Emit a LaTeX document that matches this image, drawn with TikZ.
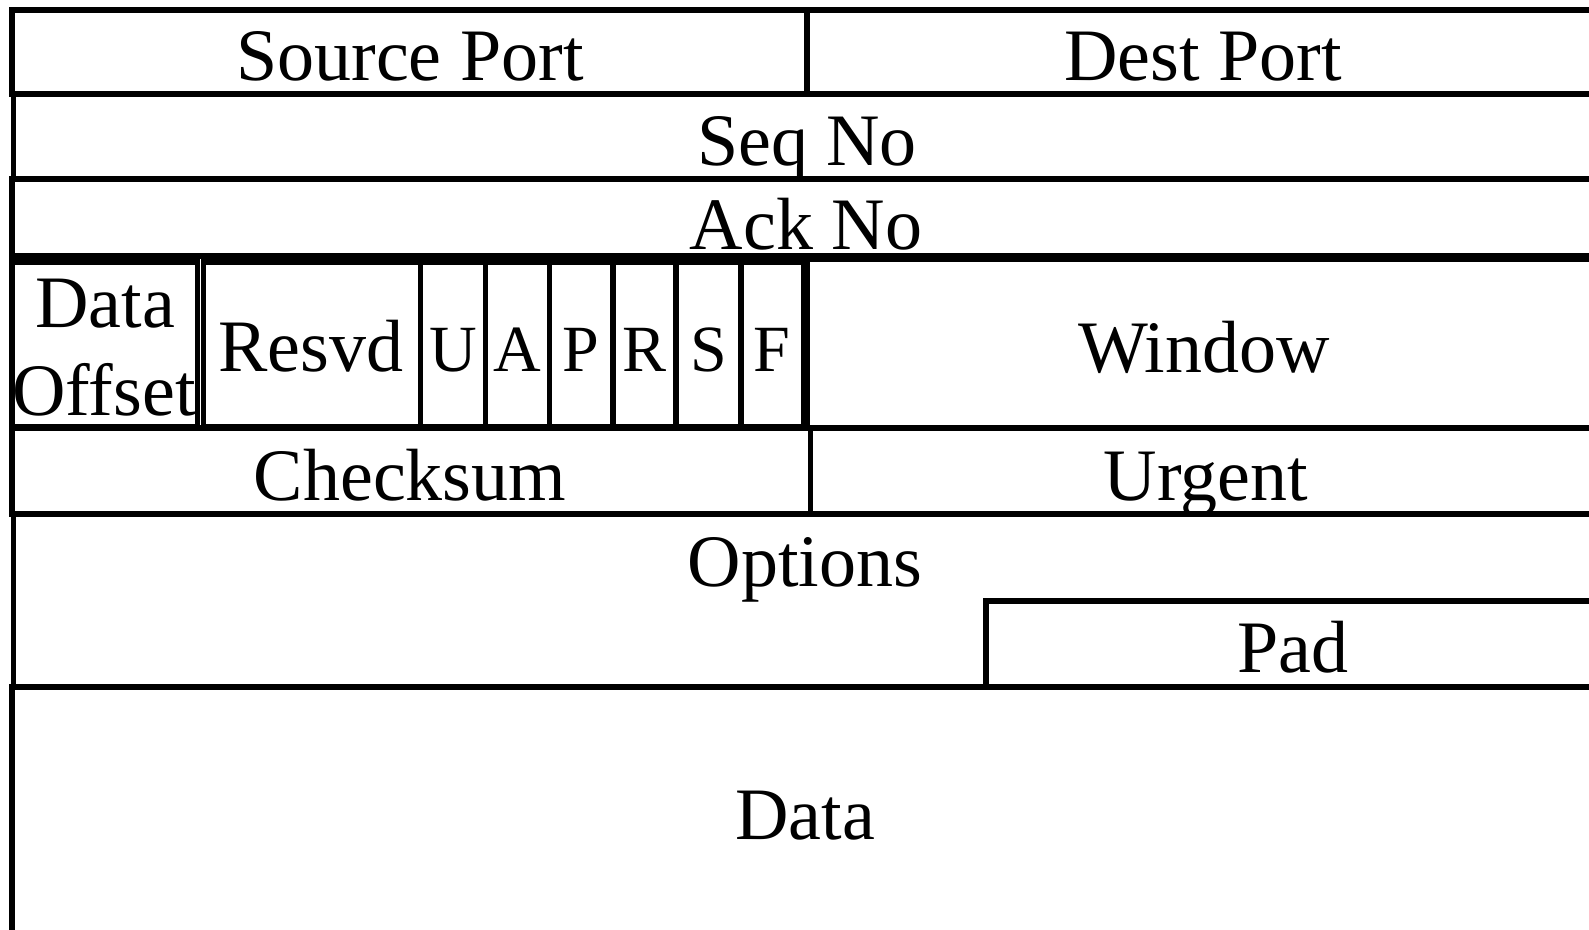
\documentclass[tikz,border=0pt]{standalone}
\usepackage{fontspec}
\setmainfont{Liberation Serif}
\begin{document}
\begin{tikzpicture}[x=1pt,y=-1pt,
  cell/.style={draw=black,line width=5.5pt},
  lbl/.style={anchor=base,inner sep=0pt,font=\fontsize{74}{80}\selectfont},
  flag/.style={anchor=base,inner sep=0pt,font=\fontsize{66}{72}\selectfont}]
\useasboundingbox (0,0) rectangle (1589,929);
\clip (0,0) rectangle (1589,929);
% row 1
\draw[cell] (12,10) rectangle (1620,94);
\draw[cell] (807,10) -- (807,94);
\node[lbl] (srcport) at (410,80) {Source Port};
\node[lbl] (dstport) at (1203,80) {Dest Port};
% row 2
\draw[cell] (13.5,94) rectangle (1620,179);
\node[lbl] (seqno) at (807,165) {Seq No};
% row 3
\draw[cell] (12,179) rectangle (1620,256);
\node[lbl] (ackno) at (806,249) {Ack No};
% row 4
\draw[cell] (12,262) rectangle (197.5,427);
\draw[cell] (203.5,262) rectangle (420.5,427);
\draw[cell] (420.5,262) rectangle (485.5,427);
\draw[cell] (485.5,262) rectangle (549.5,427);
\draw[cell] (549.5,262) rectangle (613,427);
\draw[cell] (613,262) rectangle (676,427);
\draw[cell] (676,262) rectangle (741,427);
\draw[cell] (741,262) rectangle (803.5,427);
\draw[cell] (807.5,259) rectangle (1620,428);
\node[lbl] (doff1) at (105,327) {Data};
\node[lbl] (doff2) at (104,415) {Offset};
\node[lbl] (resvd) at (311,371) {Resvd};
\node[flag] (fu) at (453,371) {U};
\node[flag] (fa) at (517.5,371) {A};
\node[flag] (fp) at (581,371) {P};
\node[flag] (fr) at (644.5,371) {R};
\node[flag] (fs) at (708.5,371) {S};
\node[flag] (ff) at (772,371) {F};
\node[lbl] (window) at (1204,372) {Window};
% row 5
\draw[cell] (12,428) rectangle (1620,514);
\draw[cell] (810.5,428) -- (810.5,514);
\node[lbl] (checksum) at (410,500) {Checksum};
\node[lbl] (urgent) at (1206,500) {Urgent};
% row 6
\draw[cell] (13.5,514) rectangle (1620,687);
\draw[cell] (986,687) -- (986,601) -- (1620,601);
\node[lbl] (options) at (805,586) {Options};
\node[lbl] (pad) at (1293,672) {Pad};
% row 7
\draw[cell] (12,687) rectangle (1620,1000);
\node[lbl] (data) at (805,839) {Data};
\end{tikzpicture}
\end{document}
